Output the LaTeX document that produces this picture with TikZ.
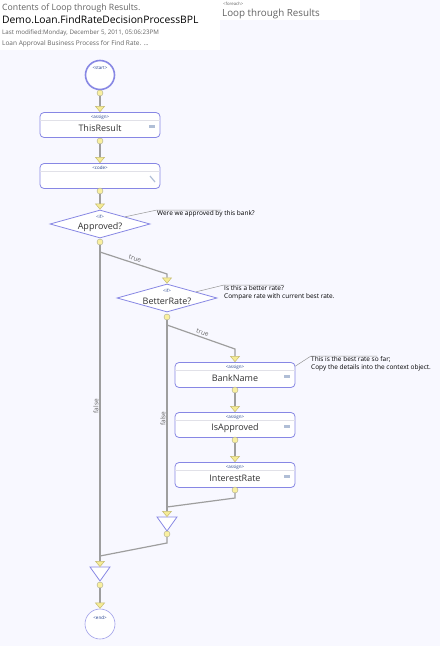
\documentclass[tikz,border=0pt]{standalone}
\usepackage{fontspec}
\setmainfont{Open Sans}
\usepackage{tikz}
\usetikzlibrary{arrows.meta, shapes.geometric}

\definecolor{bgcol}{RGB}{248,248,255}
\definecolor{boxblue}{RGB}{135,135,228}
\definecolor{linegray}{RGB}{158,158,158}
\definecolor{notegray}{RGB}{150,150,150}
\definecolor{dotfill}{RGB}{250,240,160}
\definecolor{dotline}{RGB}{170,170,140}
\definecolor{tipfill}{RGB}{246,236,150}
\definecolor{tipline}{RGB}{196,186,110}
\definecolor{tagblue}{RGB}{30,60,140}
\definecolor{textgray}{RGB}{50,50,50}
\definecolor{labelgray}{RGB}{100,100,100}
\definecolor{sepgray}{RGB}{225,225,232}
\definecolor{iconcol}{RGB}{176,190,214}

\begin{document}
\begin{tikzpicture}[x=1pt, y=-1pt,
    >={Triangle[width=10pt, length=6pt, line width=0.5pt, fill=tipfill, color=tipline]},
    every node/.style={inner sep=0pt, text=textgray},
    stepbox/.style={draw=boxblue, fill=white, rounded corners=4pt, line width=0.8pt, minimum width=120pt, minimum height=25pt},
    decision/.style={diamond, draw=boxblue, fill=white, line width=0.8pt, minimum width=100pt, minimum height=28pt},
    pdot/.style={circle, draw=dotline, fill=dotfill, line width=0.4pt, minimum size=6pt},
    steptag/.style={font=\fontsize{4.5}{5}\selectfont, text=tagblue},
    stepname/.style={font=\fontsize{9}{10}\selectfont},
    notetext/.style={font=\fontsize{6.5}{8}\selectfont, align=left, anchor=north west, text=black},
    conn/.style={draw=linegray, line width=1.2pt},
    sepline/.style={draw=sepgray, line width=0.8pt, shorten <=0.8pt, shorten >=0.8pt},
    noteline/.style={draw=notegray, line width=0.5pt},
    joinshape/.style={draw=boxblue, fill=white, line width=0.8pt},
    branchlabel/.style={font=\fontsize{6.5}{7}\selectfont, text=labelgray, inner sep=1pt}]

    \useasboundingbox (0,0) rectangle (440,646);
    \fill[bgcol] (0,0) rectangle (440,646);

    % header
    \fill[white] (0,0) rectangle (220,50);
    \fill[white] (220,0) rectangle (360,20);
    \node[anchor=west, font=\fontsize{8.7}{10}\selectfont, text=labelgray] (title) at (2,8) {Contents of Loop through Results.};
    \node[anchor=west, font=\fontsize{10.3}{12}\selectfont, text=black] (bpl) at (2,20) {Demo.Loan.FindRateDecisionProcessBPL};
    \node[anchor=west, font=\fontsize{6.2}{7}\selectfont, text=labelgray] (modified) at (2,33) {Last modified:Monday, December 5, 2011, 05:06:23PM};
    \node[anchor=west, font=\fontsize{6.5}{7}\selectfont, text=labelgray] (descr) at (2,44) {Loan Approval Business Process for Find Rate. ...};
    \node[anchor=west, font=\fontsize{4.3}{5}\selectfont, text=labelgray] (loop-tag) at (223,4) {<foreach>};
    \node[anchor=west, font=\fontsize{9.8}{11}\selectfont, text=labelgray] (loop) at (222,14) {Loop through Results};

    % nodes
    \node[circle, draw=boxblue, fill=white, line width=1.6pt, minimum size=29pt] (start) at (100,75) {};
    \node[steptag] (start-tag) at (100,68) {<start>};
    \node[pdot] (d-start) at (100,93) {};

    \node[stepbox] (thisres) at (100,125) {};
    \draw[sepline] ([yshift=-8pt]thisres.north west) -- ([yshift=-8pt]thisres.north east);
    \node[steptag] (thisres-tag) at (100,117) {<assign>};
    \node[stepname] (thisres-name) at (100,128) {ThisResult};
    \fill[iconcol] (149,125) rectangle (155,128);
    \node[pdot] (d-thisres) at (100,141) {};

    \node[stepbox] (code) at (100,176) {};
    \draw[sepline] ([yshift=-8pt]code.north west) -- ([yshift=-8pt]code.north east);
    \node[steptag] (code-tag) at (100,168) {<code>};
    \draw[iconcol, line width=1.2pt] (150,176) -- (155,182);
    \node[pdot] (d-code) at (100,191) {};

    \node[decision] (approved) at (100,224) {};
    \node[steptag] (approved-tag) at (100,217) {<if>};
    \node[stepname] (approved-name) at (100,227) {Approved?};
    \node[pdot] (d-approved) at (100,242) {};

    \node[decision] (better) at (167,298) {};
    \node[steptag] (better-tag) at (167,291) {<if>};
    \node[stepname] (better-name) at (167,301) {BetterRate?};
    \node[pdot] (d-better) at (167,317) {};

    \node[stepbox] (bankname) at (235,375) {};
    \draw[sepline] ([yshift=-8pt]bankname.north west) -- ([yshift=-8pt]bankname.north east);
    \node[steptag] (bankname-tag) at (235,367) {<assign>};
    \node[stepname] (bankname-name) at (235,378) {BankName};
    \fill[iconcol] (284,375) rectangle (290,378);
    \node[pdot] (d-bankname) at (235,390) {};

    \node[stepbox] (isappr) at (235,425) {};
    \draw[sepline] ([yshift=-8pt]isappr.north west) -- ([yshift=-8pt]isappr.north east);
    \node[steptag] (isappr-tag) at (235,417) {<assign>};
    \node[stepname] (isappr-name) at (235,428) {IsApproved};
    \fill[iconcol] (284,425) rectangle (290,428);
    \node[pdot] (d-isappr) at (235,440) {};

    \node[stepbox] (interest) at (235,475) {};
    \draw[sepline] ([yshift=-8pt]interest.north west) -- ([yshift=-8pt]interest.north east);
    \node[steptag] (interest-tag) at (235,467) {<assign>};
    \node[stepname] (interest-name) at (235,478) {InterestRate};
    \fill[iconcol] (284,475) rectangle (290,478);
    \node[pdot] (d-interest) at (235,490) {};

    \coordinate (join1) at (167,517);
    \draw[joinshape] ([xshift=-10pt]join1) -- ([xshift=10pt]join1) -- ([yshift=-14pt]join1) -- cycle;
    \node[pdot] (d-join1) at (167,534) {};

    \coordinate (join2) at (100,567);
    \draw[joinshape] ([xshift=-10pt]join2) -- ([xshift=10pt]join2) -- ([yshift=-14pt]join2) -- cycle;
    \node[pdot] (d-join2) at (100,585) {};

    \node[circle, draw=boxblue!80, fill=white, line width=0.6pt, minimum size=30pt] (end) at (100,624) {};
    \node[steptag] (end-tag) at (100,618) {<end>};

    % notes
    \node[notetext] (note1) at (157,210) {Were we approved by this bank?};
    \node[notetext] (note2) at (224,285) {Is this a better rate?\\Compare rate with current best rate.};
    \node[notetext] (note3) at (311,356) {This is the best rate so far;\\Copy the details into the context object.};
    \draw[noteline] (approved.16) -- (note1.north west) -- ([xshift=64pt]note1.north west);
    \draw[noteline] (better.12) -- (note2.north west) -- ([xshift=60pt]note2.north west);
    \draw[noteline] ([yshift=-4pt]bankname.north east) -- (note3.north west) -- ([xshift=66pt]note3.north west);

    % connectors
    \coordinate (t1) at (100,252);
    \coordinate (t2) at (167,274);
    \coordinate (t3) at (167,325);
    \coordinate (t4) at (235,349);
    \coordinate (m1) at (235,498);
    \coordinate (m2) at (167,507);
    \coordinate (m3) at (167,543);
    \coordinate (m4) at (100,556);

    \draw[conn, ->] (d-start) -- (thisres);
    \draw[conn, ->] (d-thisres) -- (code);
    \draw[conn, ->] (d-code) -- (approved);
    \draw[conn, ->] (d-approved) -- (join2) node[midway, rotate=90, anchor=south, branchlabel] (false1) {false};
    \draw[conn, ->] (t1) -- (t2) node[midway, sloped, above=1pt, branchlabel] (true1) {true} -- (better);
    \draw[conn, ->] (d-better) -- (join1) node[midway, rotate=90, anchor=south, branchlabel] (false2) {false};
    \draw[conn, ->] (t3) -- (t4) node[midway, sloped, above=1pt, branchlabel] (true2) {true} -- (bankname);
    \draw[conn, ->] (d-bankname) -- (isappr);
    \draw[conn, ->] (d-isappr) -- (interest);
    \draw[conn] (d-interest) -- (m1) -- (m2);
    \draw[conn] (d-join1) -- (m3) -- (m4);
    \draw[conn, ->] (d-join2) -- (end);
\end{tikzpicture}
\end{document}
